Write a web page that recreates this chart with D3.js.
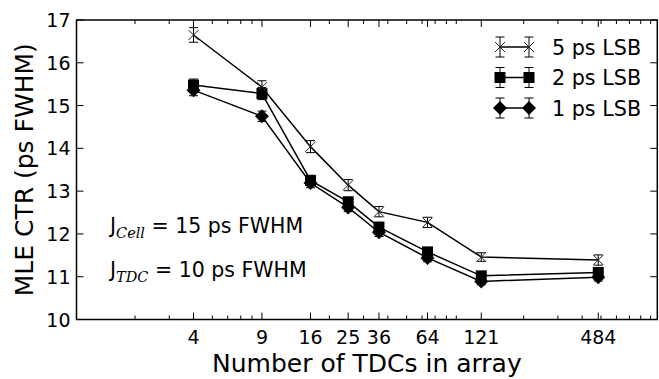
<!DOCTYPE html>
<html>
<head>
<meta charset="utf-8">
<script src="https://cdn.jsdelivr.net/npm/d3@7"></script>
<style>
  body { margin: 0; background: #fff; }
  svg { display: block; font-family: "DejaVu Sans", sans-serif; }
</style>
</head>
<body>
<svg id="chart" width="659" height="379"></svg>
<script>
// data
const tdcCounts = [4, 9, 16, 25, 36, 64, 121, 484];
const lsb5 = [16.65, 15.43, 14.04, 13.14, 12.52, 12.27, 11.46, 11.39];
const lsb5Err = [0.17, 0.15, 0.14, 0.13, 0.12, 0.12, 0.1, 0.12];
const lsb2 = [15.48, 15.28, 13.25, 12.75, 12.16, 11.58, 11.02, 11.10];
const lsb2Err = [0.14, 0.14, 0.12, 0.11, 0.11, 0.1, 0.09, 0.1];
const lsb1 = [15.36, 14.75, 13.19, 12.62, 12.04, 11.44, 10.89, 10.99];
const lsb1Err = [0.13, 0.12, 0.11, 0.1, 0.1, 0.09, 0.08, 0.09];
const seriesNames = ["5 ps LSB", "2 ps LSB", "1 ps LSB"];
const yTicks = [10, 11, 12, 13, 14, 15, 16, 17];

const series = [
  { name: seriesNames[0], values: lsb5, err: lsb5Err, marker: "x" },
  { name: seriesNames[1], values: lsb2, err: lsb2Err, marker: "s" },
  { name: seriesNames[2], values: lsb1, err: lsb1Err, marker: "D" }
];

const pLeft = 76.5, pRight = 657.3, pTop = 20, pBottom = 319.5;

const svg = d3.select("#chart");
const x = d3.scaleLog().domain([1, 974]).range([pLeft, pRight]);
const y = d3.scaleLinear().domain([10, 17]).range([pBottom, pTop]);

// minor ticks for log axis
let minor = [];
for (let dec = 1; dec <= 100; dec *= 10) {
  for (let k = 2; k <= 9; k++) {
    let v = k * dec;
    if (v < 974 && !tdcCounts.includes(v)) minor.push(v);
  }
}

let g = svg.append("g");

// x ticks: bottom and top, pointing inward
minor.forEach(v => {
  g.append("line").attr("x1", x(v)).attr("x2", x(v)).attr("y1", pBottom).attr("y2", pBottom - 4).attr("stroke", "#000");
  g.append("line").attr("x1", x(v)).attr("x2", x(v)).attr("y1", pTop).attr("y2", pTop + 4).attr("stroke", "#000");
});
tdcCounts.forEach(v => {
  g.append("line").attr("x1", x(v)).attr("x2", x(v)).attr("y1", pBottom).attr("y2", pBottom - 7).attr("stroke", "#000");
  g.append("line").attr("x1", x(v)).attr("x2", x(v)).attr("y1", pTop).attr("y2", pTop + 7).attr("stroke", "#000");
  g.append("text").attr("x", x(v)).attr("y", pBottom + 24).attr("text-anchor", "middle")
    .attr("font-size", 19).text(v);
});

yTicks.forEach(v => {
  g.append("line").attr("x1", pLeft).attr("x2", pLeft + 7).attr("y1", y(v)).attr("y2", y(v)).attr("stroke", "#000");
  g.append("line").attr("x1", pRight).attr("x2", pRight - 7).attr("y1", y(v)).attr("y2", y(v)).attr("stroke", "#000");
  g.append("text").attr("x", pLeft - 6).attr("y", y(v) + 7).attr("text-anchor", "end")
    .attr("font-size", 19).text(v);
});

// markers
function drawMarker(sel, type, cx, cy) {
  if (type === "x") {
    let r = 5;
    sel.append("path")
      .attr("d", `M${cx - r},${cy - r}L${cx + r},${cy + r}M${cx - r},${cy + r}L${cx + r},${cy - r}`)
      .attr("stroke", "#222").attr("stroke-width", 1).attr("fill", "none");
  } else if (type === "s") {
    sel.append("rect").attr("x", cx - 5.5).attr("y", cy - 5.5).attr("width", 11).attr("height", 11).attr("fill", "#000");
  } else {
    let r = 7;
    sel.append("path").attr("d", `M${cx},${cy - r}L${cx + r},${cy}L${cx},${cy + r}L${cx - r},${cy}Z`).attr("fill", "#000");
  }
}

function drawErr(sel, cx, cy1, cy2) {
  sel.append("line").attr("x1", cx).attr("x2", cx).attr("y1", cy1).attr("y2", cy2).attr("stroke", "#000").attr("stroke-width", 1);
  [cy1, cy2].forEach(cy => sel.append("line").attr("x1", cx - 4.5).attr("x2", cx + 4.5).attr("y1", cy).attr("y2", cy)
    .attr("stroke", "#000").attr("stroke-width", 1));
}

const line = d3.line().x(d => x(d[0])).y(d => y(d[1]));

let plot = svg.append("g");
series.slice().reverse().forEach(s => {
  let pts = tdcCounts.map((c, i) => [c, s.values[i]]);
  plot.append("path").attr("d", line(pts)).attr("fill", "none").attr("stroke", "#000").attr("stroke-width", 1.5);
  pts.forEach((p, i) => {
    drawErr(plot, x(p[0]), y(p[1] + s.err[i]), y(p[1] - s.err[i]));
    drawMarker(plot, s.marker, x(p[0]), y(p[1]));
  });
});

// frame
svg.append("rect").attr("x", pLeft).attr("y", pTop).attr("width", pRight - pLeft).attr("height", pBottom - pTop)
  .attr("fill", "none").attr("stroke", "#000").attr("stroke-width", 1.5);

// legend
let lg = svg.append("g");
series.forEach((s, i) => {
  let ly = 47 + i * 30.5;
  let x1 = 500, x2 = 529;
  lg.append("line").attr("x1", x1).attr("x2", x2).attr("y1", ly).attr("y2", ly).attr("stroke", "#000").attr("stroke-width", 1.5);
  [x1, x2].forEach(lx => {
    drawErr(lg, lx, ly - 10, ly + 10);
    drawMarker(lg, s.marker, lx, ly);
  });
  lg.append("text").attr("x", 552).attr("y", ly + 7.5).attr("font-size", 20.7).text(s.name);
});

// annotations
function annot(yb, sub, rest) {
  let t = svg.append("text").attr("x", 110).attr("y", yb).attr("font-size", 20.5);
  t.append("tspan").text("J");
  t.append("tspan").attr("dy", 5).attr("font-family", "'DejaVu Serif', serif").attr("font-style", "italic")
    .attr("font-size", 14.5).text(sub);
  t.append("tspan").attr("dy", -5).text(" = " + rest);
}
annot(233, "Cell", "15 ps FWHM");
annot(277, "TDC", "10 ps FWHM");

// axis labels
svg.append("text").attr("x", (pLeft + pRight) / 2).attr("y", 372).attr("text-anchor", "middle")
  .attr("font-size", 25).text("Number of TDCs in array");
svg.append("text").attr("transform", `translate(33,${(pTop + pBottom) / 2}) rotate(-90)`).attr("text-anchor", "middle")
  .attr("font-size", 25).text("MLE CTR (ps FWHM)");
</script>
</body>
</html>
